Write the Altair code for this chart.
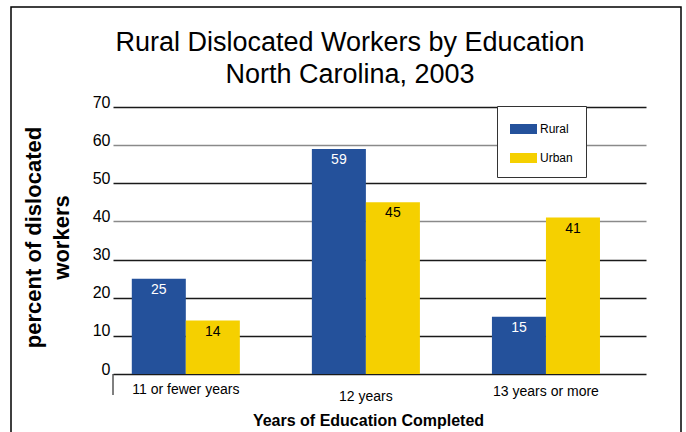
import altair as alt
import pandas as pd

title_lines = ["Rural Dislocated Workers by Education", "North Carolina, 2003"]
categories = ["11 or fewer years", "12 years", "13 years or more"]
series = ["Rural", "Urban"]
rural = [25, 59, 15]
urban = [14, 45, 41]
colors = ["#24519B", "#F5D000"]
y_ticks = [0, 10, 20, 30, 40, 50, 60, 70]

rows = []
for c, r, u in zip(categories, rural, urban):
    rows.append({"education": c, "area": "Rural", "pct": r})
    rows.append({"education": c, "area": "Urban", "pct": u})
df = pd.DataFrame(rows)

FONT = "Liberation Sans, Arial, sans-serif"

W, H = 533, 267

x_enc = alt.X(
    "education:N",
    sort=categories,
    scale=alt.Scale(paddingInner=0.4, paddingOuter=0.18, align=0.29),
    axis=alt.Axis(
        title="Years of Education Completed",
        domain=False,
        ticks=False,
        labelAngle=0,
        labelFontSize=14,
        labelFont=FONT,
        labelColor="black",
        labelBaseline="top",
        labelPadding={
            "condition": [
                {"test": "datum.value === '12 years'", "value": 15},
                {"test": "datum.value === '13 years or more'", "value": 10},
            ],
            "value": 8,
        },
        titleFontSize=16,
        titleFont=FONT,
        titleFontWeight="bold",
        titleColor="black",
        titleX=255,
        titleY=38,
        titleBaseline="top",
        titleAnchor="middle",
    ),
)

y_enc = alt.Y(
    "pct:Q",
    scale=alt.Scale(domain=[0, 70], nice=False),
    axis=alt.Axis(
        values=y_ticks,
        labelOverlap=False,
        domain=False,
        ticks=False,
        grid=True,
        gridColor={
            "condition": {"test": "datum.value === 60 || datum.value === 40", "value": "#8a8a8a"},
            "value": "#1a1a1a",
        },
        gridWidth=1.3,
        labelFontSize=16,
        labelFont=FONT,
        labelColor="black",
        labelBaseline="alphabetic",
        labelPadding=3,
        title=["percent of dislocated", "workers"],
        titleFontSize=22,
        titleFont=FONT,
        titleFontWeight="bold",
        titleColor="black",
        titleAngle=270,
        titleX=-73,
        titleY=130,
        titleAlign="center",
        titleBaseline="alphabetic",
        titleLineHeight=28,
    ),
)

base = alt.Chart(df).encode(
    x=x_enc,
    xOffset=alt.XOffset("area:N", sort=series, scale=alt.Scale(paddingInner=0, paddingOuter=0)),
    y=y_enc,
)

bars = base.mark_bar().encode(
    color=alt.Color(
        "area:N",
        sort=series,
        scale=alt.Scale(domain=series, range=colors),
        legend=alt.Legend(
            title=None,
            orient="none",
            legendX=384,
            legendY=-1,
            padding=13,
            strokeColor="#333333",
            fillColor="white",
            symbolType="M-1,-0.5H1.7V0.5H-1Z",
            symbolSize=400,
            symbolStrokeWidth=0,
            labelFont=FONT,
            labelFontSize=12,
            labelColor="black",
            labelOffset=10,
            rowPadding=13,
        ),
    ),
)

labels = base.mark_text(baseline="middle", dy=11, fontSize=14, font=FONT).encode(
    text=alt.Text("pct:Q"),
    color=alt.condition("datum.area === 'Rural'", alt.value("white"), alt.value("black")),
)

one = pd.DataFrame({"k": [0]})
border = alt.Chart(one).mark_rect(filled=False, stroke="black", strokeWidth=1.5).encode(
    x=alt.value(-102), x2=alt.value(568), y=alt.value(-100), y2=alt.value(340)
)
left_tick = alt.Chart(one).mark_rule(color="black", strokeWidth=1).encode(
    x=alt.value(0), y=alt.value(H), y2=alt.value(H + 21)
)
title_df = pd.DataFrame({"t": ["\n".join(title_lines)]})
title_mark = alt.Chart(title_df).mark_text(
    fontSize=27, font=FONT, color="black", align="center", baseline="alphabetic",
    lineBreak="\n", lineHeight=32,
).encode(text="t:N", x=alt.value(237), y=alt.value(-56))

chart = alt.layer(border, bars, labels, left_tick, title_mark).properties(
    width=W,
    height=H,
    padding={"left": 113, "top": 107, "right": 40, "bottom": 58},
    autosize=alt.AutoSizeParams(type="none"),
).configure_view(stroke=None)

chart.save("out.html", embed_options={"renderer": "svg", "actions": False})
